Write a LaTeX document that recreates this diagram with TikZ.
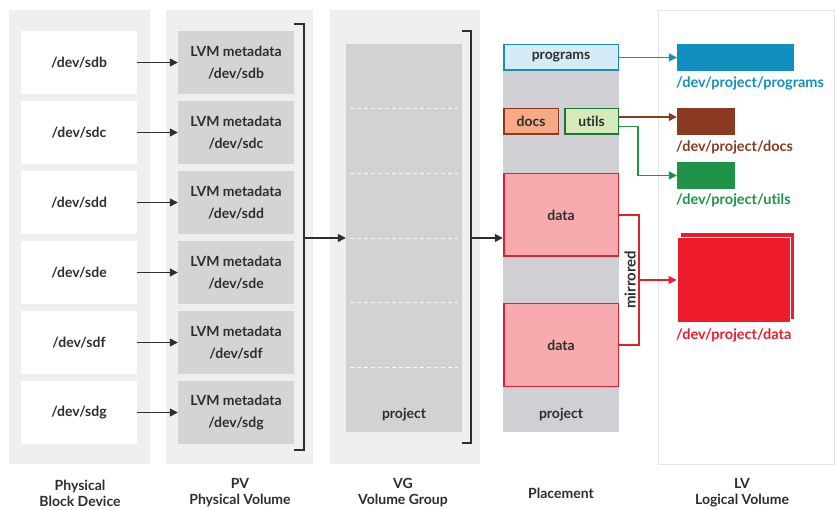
\documentclass[tikz,border=0pt]{standalone}
\usepackage{fontspec}
\setmainfont{Lato}[Ligatures=NoCommon]
\usetikzlibrary{arrows.meta}
\definecolor{panelbg}{HTML}{EFEFEF}
\definecolor{pvgray}{HTML}{D4D4D4}
\definecolor{vggray}{HTML}{D2D2D2}
\definecolor{plgray}{HTML}{D0D0D4}
\definecolor{ink}{HTML}{2E2E2E}
\definecolor{lvblue}{HTML}{1190BF}
\definecolor{progfill}{HTML}{D5EBF6}
\definecolor{progline}{HTML}{1A8DB4}
\definecolor{lvbrown}{HTML}{8A3A20}
\definecolor{docsfill}{HTML}{F5A984}
\definecolor{lvgreen}{HTML}{1F9447}
\definecolor{utilsfill}{HTML}{D6E9BB}
\definecolor{lvred}{HTML}{EE1C2B}
\definecolor{datafill}{HTML}{F8ABAE}
\definecolor{dataline}{HTML}{E0202D}
\begin{document}
\begin{tikzpicture}[x=1pt,y=-1pt,
  every node/.style={font=\fontsize{14}{16}\selectfont\bfseries, text=ink, inner sep=0pt},
  panel/.style={fill=panelbg, draw=none, minimum width=#1},
  devbox/.style={fill=white, minimum width=116pt, minimum height=63pt},
  pvbox/.style={fill=pvgray, minimum width=116pt, minimum height=63pt, align=center, font=\fontsize{14}{22}\selectfont\bfseries},
  arr/.style={-{Triangle[length=8pt,width=8pt]}, line width=1.3pt, draw=ink},
  brk/.style={line width=1.5pt, draw=ink},
  lvbar/.style={minimum height=27pt},
  lvlabel/.style={anchor=west, font=\fontsize{14.5}{16}\selectfont\bfseries},
  foot/.style={align=center, font=\fontsize{14}{16}\selectfont\bfseries}
]
\useasboundingbox (0,0) rectangle (835,510);
\fill[white] (0,0) rectangle (835,510);

% panels
\node[panel=141pt, minimum height=454pt] (p1) at (79.5,237) {};
\node[panel=147pt, minimum height=454pt] (p2) at (239.5,237) {};
\node[panel=150pt, minimum height=454pt] (p3) at (405,237) {};
\draw[draw=black!10, line width=0.6pt, fill=white] (658,10) rectangle (834.7,464);

% devices and PVs
\foreach \i/\d in {1/sdb,2/sdc,3/sdd,4/sde,5/sdf,6/sdg}{
  \node[devbox] (dev\i) at (79,{62.5+70*(\i-1)}) {/dev/\d};
  \node[pvbox] (pv\i) at (236,{62.5+70*(\i-1)}) {LVM metadata\\/dev/\d};
  \draw[arr] (dev\i.east) -- (pv\i.west);
}

% PV bracket
\coordinate (pvbt) at (304,24);
\coordinate (pvbb) at (304,450);
\coordinate (pvbm) at (304,238);
\draw[brk] (294,24) -- (pvbt) -- (pvbb) -- (294,450);

% VG
\node[fill=vggray, minimum width=116pt, minimum height=388pt] (vg) at (404,238) {};
\foreach \yy in {108,173,238,302,367}
  \draw[white!85!vggray, line width=0.8pt, dash pattern=on 4pt off 3pt] (350,\yy) -- (458,\yy);
\node (vgname) at (404,415) {project};
\draw[arr] (pvbm) -- (vg.west);

% VG bracket
\coordinate (vgbt) at (471,31);
\coordinate (vgbb) at (471,443);
\coordinate (vgbm) at (471,238);
\draw[brk] (462,31) -- (vgbt) -- (vgbb) -- (462,443);

% Placement
\node[fill=plgray, minimum width=116pt, minimum height=388pt] (col) at (561,238) {};
\draw[arr] (vgbm) -- (col.west);
\node[fill=progfill, draw=progline, line width=1.5pt, minimum width=114.5pt, minimum height=25.5pt] (prog) at (561,57.5) {programs};
\node[fill=docsfill, draw=lvbrown, line width=1.5pt, minimum width=54.5pt, minimum height=25.5pt] (docs) at (531,121.5) {docs};
\node[fill=utilsfill, draw=lvgreen!80!black, line width=1.5pt, minimum width=53.5pt, minimum height=25.5pt] (utils) at (591.5,121.5) {utils};
\node[fill=datafill, draw=dataline, line width=1.5pt, minimum width=114.5pt, minimum height=82.5pt] (data1) at (561,215) {data};
\node[fill=datafill, draw=dataline, line width=1.5pt, minimum width=114.5pt, minimum height=82.5pt] (data2) at (561,345) {data};
\node (plname) at (561,415) {project};

% mirrored bracket
\coordinate (mt) at (639,215);
\coordinate (mb) at (639,345);
\coordinate (mm) at (639,280);
\draw[dataline, line width=1.5pt] (data1.east) -- (mt) -- (mb) -- (data2.east);
\node[rotate=90, font=\fontsize{15}{17}\selectfont\bfseries] (mirr) at (630,280) {mirrored};

% LV bars
\node[fill=lvblue, lvbar, minimum width=117pt] (lvprog) at (735.5,57.5) {};
\node[fill=lvbrown, lvbar, minimum width=58pt] (lvdocs) at (706,121.5) {};
\node[fill=lvgreen, lvbar, minimum width=58pt] (lvutils) at (706,175.5) {};
\fill[lvred] (681,233) rectangle (794,319);
\node[fill=lvred, draw=white, line width=1pt, minimum width=113pt, minimum height=85pt] (lvdata) at (733.5,280.5) {};

\node[lvlabel, text=lvblue] (lprog) at (676,83) {/dev/project/programs};
\node[lvlabel, text=lvbrown] (ldocs) at (676,147) {/dev/project/docs};
\node[lvlabel, text=lvgreen] (lutils) at (676,200) {/dev/project/utils};
\node[lvlabel, text=lvred] (ldata) at (676,335) {/dev/project/data};

% LV connectors
\draw[arr, draw=progline] (prog.east) -- (lvprog.west);
\draw[arr, draw=lvbrown] ([yshift=4.5pt]utils.east) -- ([yshift=4.5pt]lvdocs.west);
\draw[arr, draw=lvgreen] ([yshift=-5pt]utils.east) -- (638,126.5) |- (lvutils.west);
\draw[arr, draw=lvred] (mm) -- (mm -| lvdata.west);

% footer
\node[foot] (f1) at (80,493) {Physical\\Block Device};
\node[foot] (f2) at (240,493) {PV\\Physical Volume};
\node[foot] (f3) at (403,493) {VG\\Volume Group};
\node[foot] (f4) at (561,493) {Placement};
\node[foot] (f5) at (742,493) {LV\\Logical Volume};
\end{tikzpicture}
\end{document}
